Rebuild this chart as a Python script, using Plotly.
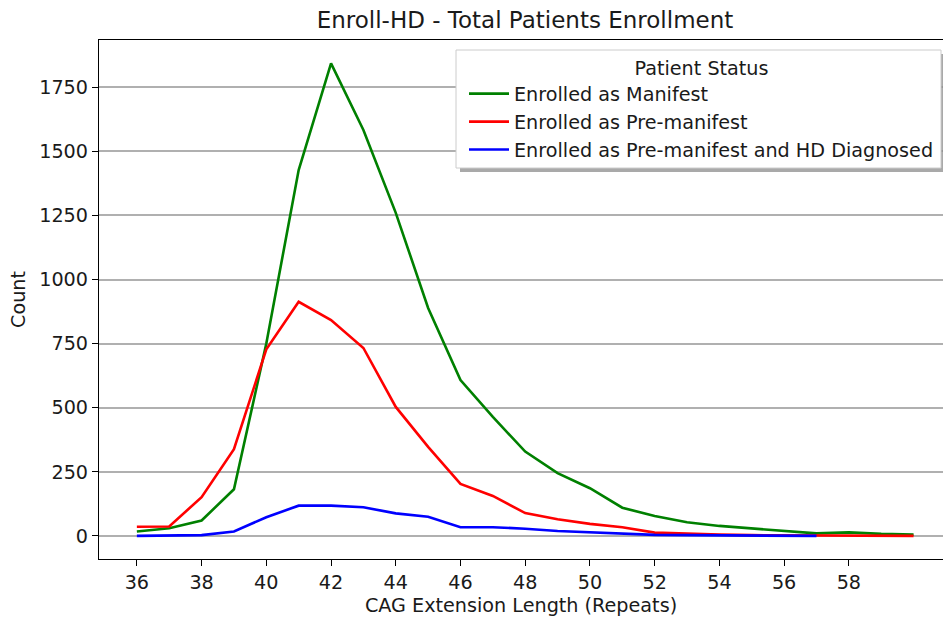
import plotly.graph_objects as go

cag = list(range(36, 61))
manifest = [17, 30, 60, 182, 750, 1427, 1843, 1583, 1260, 889, 608, 464, 329, 245,
            186, 110, 78, 53, 39, 30, 20, 10, 14, 8, 5]
premanifest = [36, 37, 151, 338, 728, 913, 842, 733, 503, 347, 203, 156, 89, 65,
               47, 34, 13, 8, 5, 3, 2, 1, 0, 0, 0]
cag_blue = list(range(36, 58))
pre_hd = [0, 1, 3, 17, 73, 118, 118, 112, 88, 75, 34, 34, 28, 19, 14, 8, 4, 3, 2, 1, 1, 0]

x_ticks = list(range(36, 60, 2))
y_ticks = [0, 250, 500, 750, 1000, 1250, 1500, 1750]

FONT = "DejaVu Sans"
FS = 19.2
W, H = 943, 617
L, R, T, B = 99, 0, 40, 58
pw, ph = W - L - R, H - T - B

def px(x):
    return (x - L) / pw

def py(y):
    return (H - B - y) / ph

LW = 2.6
fig = go.Figure()
fig.add_trace(go.Scatter(x=cag, y=manifest, mode="lines", name="Enrolled as Manifest",
                         line=dict(color="#008000", width=LW), legendgroup="a"))
fig.add_trace(go.Scatter(x=cag, y=premanifest, mode="lines", name="Enrolled as Pre-manifest",
                         line=dict(color="#ff0000", width=LW), legendgroup="b"))
fig.add_trace(go.Scatter(x=cag_blue, y=pre_hd, mode="lines",
                         name="Enrolled as Pre-manifest and HD Diagnosed",
                         line=dict(color="#0000ff", width=LW), legendgroup="c"))

# legend box with shadow
fig.add_shape(type="rect", xref="paper", yref="paper",
              x0=px(460), x1=px(945), y0=py(172), y1=py(54),
              fillcolor="rgba(140,140,140,0.75)", line=dict(width=0), layer="above")
fig.add_shape(type="rect", xref="paper", yref="paper",
              x0=px(456), x1=px(941), y0=py(168), y1=py(50),
              fillcolor="white", line=dict(color="#cccccc", width=1), layer="above")

fig.update_layout(
    width=W, height=H,
    margin=dict(l=L, r=R, t=T, b=B),
    paper_bgcolor="white", plot_bgcolor="white",
    font=dict(family=FONT, size=FS, color="#1a1a1a"),
    title=dict(text="Enroll-HD - Total Patients Enrollment", x=525 / W, xref="container",
               xanchor="center", y=1 - 20 / H, yanchor="middle",
               font=dict(size=23, family=FONT, color="#1a1a1a")),
    xaxis=dict(range=[34.83, 60.91], tickvals=x_ticks, ticktext=[str(v) for v in x_ticks],
               showgrid=False, zeroline=False, showline=True, linecolor="black",
               linewidth=1.2, mirror=True, ticks="outside", ticklen=6, tickcolor="black",
               tickfont=dict(size=FS),
               title=dict(text="CAG Extension Length (Repeats)", font=dict(size=FS), standoff=7)),
    yaxis=dict(range=[-90, 1934], tickvals=y_ticks, ticktext=[str(v) for v in y_ticks],
               showgrid=True, gridcolor="#b0b0b0", gridwidth=1.5, zeroline=False,
               showline=True, linecolor="black", linewidth=1.2, ticks="outside",
               ticklen=6, tickcolor="black", tickfont=dict(size=FS),
               title=dict(text="Count", font=dict(size=FS), standoff=8)),
    legend=dict(x=px(464), y=py(49.7), xanchor="left", yanchor="top",
                bgcolor="rgba(0,0,0,0)", borderwidth=0,
                font=dict(size=FS, family=FONT),
                title=dict(text="Patient Status", side="top center", font=dict(size=FS)),
                tracegroupgap=0, itemwidth=40),
    showlegend=True,
)

fig.write_html("out.html")
